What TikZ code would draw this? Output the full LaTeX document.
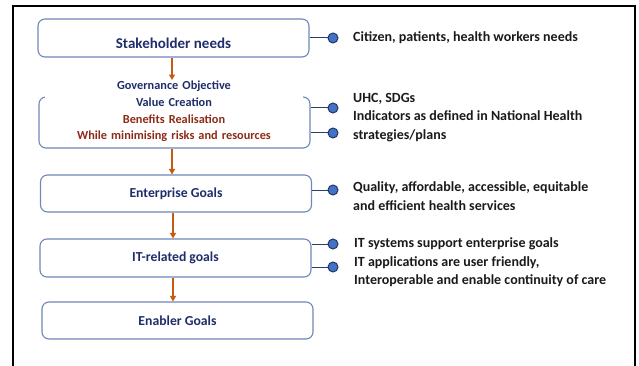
\documentclass[tikz,border=0pt]{standalone}
\usepackage{fontspec}
\setmainfont{Carlito}
\usetikzlibrary{arrows.meta}
\definecolor{boxline}{HTML}{7087B8}
\definecolor{navy}{HTML}{1F2D6B}
\definecolor{rust}{HTML}{8E2B17}
\definecolor{arrowc}{HTML}{C55A11}
\definecolor{dotfill}{HTML}{4472C4}
\definecolor{dotline}{HTML}{1F3864}
\definecolor{linec}{HTML}{2E3C6A}
\definecolor{notec}{HTML}{1A1A1A}
\begin{document}
\begin{tikzpicture}[x=1pt,y=-1pt,
 goalbox/.style={draw=boxline, line width=1.1pt, rounded corners=7pt, fill=white, inner sep=0pt, minimum width=271pt},
 boxlabel/.style={font=\bfseries\fontsize{13.7}{15}\selectfont, text=navy},
 flow/.style={draw=arrowc, line width=1.2pt, -{Triangle[length=5.5pt,width=6pt]}},
 link/.style={draw=linec, line width=1pt},
 dot/.style={circle, draw=dotline, fill=dotfill, line width=1pt, minimum size=10pt, inner sep=0pt},
 note/.style={font=\bfseries\fontsize{14}{18.5}\selectfont, text=notec, anchor=west, align=left, inner sep=0pt}
]
\useasboundingbox (0,0) rectangle (639,366);
% outer frame
\draw[line width=2pt, black] (12.5,370) -- (12.5,6.5) -- (634.5,6.5) -- (634.5,370);

% boxes
\node[goalbox, minimum height=38pt] (b1) at (173.5,38) {};
\node[boxlabel, font=\bfseries\fontsize{15}{17}\selectfont] (t1) at (173.5,43) {Stakeholder needs};
\node[goalbox, minimum height=51pt] (b2) at (174.5,122.5) {};
\node[fill=white, text width=256pt, align=center, inner sep=1pt,
      font=\bfseries\fontsize{12.3}{16.6}\selectfont] (gov) at (174,111.5)
 {\textcolor{navy}{Governance Objective}\\
  \textcolor{navy}{Value Creation}\\
  \textcolor{rust}{Benefits Realisation}\\
  \textcolor{rust}{While minimising risks and resources}};
\node[goalbox, minimum height=37pt] (b3) at (176,193.5) {};
\node[boxlabel] (t3) at (176,193.5) {Enterprise Goals};
\node[goalbox, minimum height=38pt] (b4) at (175.5,258) {};
\node[boxlabel] (t4) at (175.5,258) {IT-related goals};
\node[goalbox, minimum height=37pt] (b5) at (177.5,320.5) {};
\node[boxlabel] (t5) at (177.5,320.5) {Enabler Goals};

% flow arrows
\draw[flow] ([xshift=-1.5pt]b1.south) -- ([xshift=-1.5pt]b1.south |- gov.north);
\draw[flow] ([xshift=-2.5pt]b2.south) -- ([xshift=-2.5pt]b2.south |- b3.north);
\draw[flow] ([xshift=-3pt]b3.south) -- ([xshift=-3pt]b3.south |- b4.north);
\draw[flow] ([xshift=-2.5pt]b4.south) -- ([xshift=-2.5pt]b4.south |- b5.north);

% dots and links
\node[dot] (d1) at (333,38) {};
\node[dot] (d2a) at (333,108) {};
\node[dot] (d2b) at (333,133) {};
\node[dot] (d3) at (333,190) {};
\node[dot] (d4a) at (333,244) {};
\node[dot] (d4b) at (333,267) {};
\draw[link] (b1.east |- d1) -- (d1);
\draw[link] (b2.east |- d2a) -- (d2a);
\draw[link] (b2.east |- d2b) -- (d2b);
\draw[link] (b3.east |- d3) -- (d3);
\draw[link] (b4.east |- d4a) -- (d4a);
\draw[link] (b4.east |- d4b) -- (d4b);

% notes
\node[note] (n1) at (353,38) {Citizen, patients, health workers needs};
\node[note] (n2) at (353,117.5) {UHC, SDGs\\Indicators as defined in National Health\\strategies/plans};
\node[note] (n3) at (353,196) {Quality, affordable, accessible, equitable\\and efficient health services};
\node[note] (n4) at (354,262.5) {IT systems support enterprise goals\\IT applications are user friendly,\\Interoperable and enable continuity of care};
\end{tikzpicture}
\end{document}
